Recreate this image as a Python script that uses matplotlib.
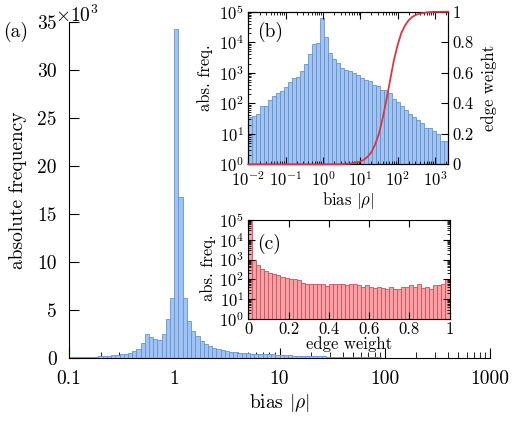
import numpy as np
import matplotlib
matplotlib.use("Agg")
import matplotlib.pyplot as plt
from matplotlib.ticker import LogLocator, NullFormatter

plt.rcParams['font.family'] = ['cmr10', 'DejaVu Serif']
plt.rcParams['mathtext.fontset'] = 'cm'
plt.rcParams['axes.formatter.use_mathtext'] = True
plt.rcParams['axes.unicode_minus'] = False

# (a) main histogram: 25 bins per decade from 0.1 to 1000, counts in thousands
main_log_edges = np.arange(-1, 3.0001, 0.04)
main_counts = [
    0.10, 0.10, 0.11, 0.12, 0.12, 0.13, 0.15, 0.17, 0.19, 0.22,
    0.27, 0.32, 0.40, 0.45, 0.55, 0.70, 0.95, 1.60,
    2.50, 2.15, 2.00, 1.85, 2.45, 4.10, 6.20,
    34.3, 16.8, 6.2, 3.9, 2.8, 2.3, 1.8, 1.45, 1.2, 1.05, 0.95,
    0.85, 0.75, 0.66, 0.60, 0.55, 0.50, 0.47, 0.45,
    0.43, 0.42, 0.42, 0.41, 0.38, 0.35, 0.31, 0.28, 0.27, 0.26,
    0.24, 0.22, 0.21, 0.20, 0.18, 0.17, 0.16, 0.15, 0.14, 0.13,
    0.12, 0.11, 0.10, 0.09, 0.085, 0.08, 0.07, 0.065, 0.06, 0.055,
    0.05, 0.045, 0.042, 0.04, 0.037, 0.035,
    0.032, 0.03, 0.027, 0.025, 0.022, 0.02, 0.017, 0.015, 0.012, 0.011,
    0.01, 0.009, 0.008, 0.008, 0.007, 0.006, 0.006, 0.005, 0.005, 0.004,
]
main_xticks = [0.1, 1, 10, 100, 1000]
main_xticklabels = ['0.1', '1', '10', '100', '1000']
main_yticks = [0, 5, 10, 15, 20, 25, 30, 35]

# (b) inset: 50 log bins from 1e-2 to ~2.3e3
b_log_edges = np.linspace(-2, 3.36, 51)
b_counts = [
    35, 38, 45, 81, 81, 126, 174, 209, 257, 347,
    513, 661, 741, 1148, 1905, 3981, 8511, 9120, 60000, 15136,
    4365, 2754, 2042, 1380, 1230, 1148, 955, 832, 661, 575,
    537, 398, 363, 269, 269, 209, 135, 112, 81, 60,
    45, 35, 28, 22, 15, 15, 12, 10, 6, 6,
]
# edge weight curve, x as log10 of bias
curve_logbias = [-2, 0, 0.5, 0.75, 1.0, 1.1, 1.2, 1.3, 1.4, 1.5, 1.6, 1.7,
                 1.8, 1.9, 2.0, 2.1, 2.2, 2.3, 2.4, 2.5, 2.6, 2.8, 3.0, 3.36]
curve_weight = [0, 0, 0.001, 0.005, 0.018, 0.03, 0.05, 0.08, 0.13, 0.20,
                0.30, 0.42, 0.55, 0.68, 0.78, 0.86, 0.91, 0.945, 0.967,
                0.98, 0.988, 0.996, 0.999, 1.0]

# (c) inset: 50 linear bins of edge weight
c_edges = np.linspace(0, 1, 51)
c_counts = [
    89000, 955, 525, 331, 269, 204, 182, 162, 138, 123,
    100, 100, 89, 68, 60, 60, 60, 56, 60, 46,
    60, 60, 60, 56, 54, 56, 60, 50, 43, 50,
    41, 36, 43, 36, 33, 43, 31, 33, 39, 43,
    50, 43, 56, 38, 43, 33, 50, 54, 58, 100,
]

blue_fill, blue_edge = '#a3c3ef', '#5e95de'
red_fill, red_edge = '#f2a3a6', '#dc4a55'
red_line = '#e03540'

W, H = 528, 421
fig = plt.figure(figsize=(W / 100, H / 100), dpi=100)


def rect(l, t, r, b):
    return [l / W, 1 - b / H, (r - l) / W, (b - t) / H]


FS_MAIN = 14
FS_IN = 12

# ---- main panel (a)
ax = fig.add_axes(rect(69, 22, 490, 358))
edges = 10 ** main_log_edges
ax.bar(edges[:-1], main_counts, width=np.diff(edges), align='edge',
       color=blue_fill, edgecolor=blue_edge, linewidth=0.6)
ax.set_axisbelow(True)
ax.set_xscale('log')
ax.set_xlim(0.1, 1000)
ax.set_ylim(0, 35)
ax.set_xticks(main_xticks)
ax.set_xticklabels(main_xticklabels)
ax.xaxis.set_minor_formatter(NullFormatter())
ax.set_yticks(main_yticks)
ax.set_yticklabels([str(v) for v in main_yticks])
ax.spines['top'].set_visible(False)
ax.spines['right'].set_visible(False)
ax.tick_params(which='both', direction='in', top=False, right=False,
               labelsize=FS_MAIN)
ax.tick_params(which='major', length=7, pad=9)
ax.tick_params(which='minor', length=4)
ax.set_xlabel(r'bias $|\rho|$', fontsize=FS_MAIN, va='center')
ax.xaxis.set_label_coords(0.5, -0.134)
ax.set_ylabel('absolute frequency', fontsize=FS_MAIN, va='center')
ax.yaxis.set_label_coords(-0.121, 0.5)
fig.text(55 / W, 1 - 15 / H, r'$\times10^3$', fontsize=FS_MAIN, ha='left', va='center')
fig.text(3 / W, 1 - 32 / H, '(a)', fontsize=FS_MAIN, ha='left', va='center')

# ---- inset (b)
axb = fig.add_axes(rect(248.3, 11.7, 448.3, 164.3))
bedges = 10 ** b_log_edges
axb.bar(bedges[:-1], b_counts, width=np.diff(bedges), align='edge',
        color=blue_fill, edgecolor=blue_edge, linewidth=0.6)
axb.set_xscale('log')
axb.set_yscale('log')
axb.set_xlim(bedges[0], bedges[-1])
axb.set_ylim(1, 1e5)
axb.set_xticks([1e-2, 1e-1, 1, 10, 100, 1000])
axb.set_xticklabels([r'$10^{-2}$', r'$10^{-1}$', r'$10^{0}$', r'$10^{1}$',
                     r'$10^{2}$', r'$10^{3}$'])
axb.set_yticks([1, 10, 100, 1e3, 1e4, 1e5])
axb.set_yticklabels([r'$10^{%d}$' % i for i in range(6)])
axb.xaxis.set_minor_locator(LogLocator(base=10, subs=np.arange(2, 10), numticks=20))
axb.yaxis.set_minor_locator(LogLocator(base=10, subs=np.arange(2, 10), numticks=20))
axb.xaxis.set_minor_formatter(NullFormatter())
axb.yaxis.set_minor_formatter(NullFormatter())
axb.tick_params(which='both', direction='in', top=True, right=False, labelsize=FS_IN)
axb.tick_params(which='major', length=5, pad=3)
axb.tick_params(which='minor', length=2.5)
axb.tick_params(axis='x', which='major', pad=4)
axb.set_xlabel(r'bias $|\rho|$', fontsize=FS_IN, va='center')
axb.xaxis.set_label_coords(0.5, -0.237)
axb.set_ylabel('abs. freq.', fontsize=FS_IN, va='center')
axb.yaxis.set_label_coords(-0.215, 0.57)
axb.text(0.045, 0.87, '(b)', transform=axb.transAxes, fontsize=FS_MAIN,
         ha='left', va='center')

axb2 = axb.twinx()
axb2.plot(10 ** np.array(curve_logbias), curve_weight, color=red_line, lw=1.3,
          clip_on=False, zorder=5)
axb2.set_ylim(0, 1)
axb2.set_yticks([0, 0.2, 0.4, 0.6, 0.8, 1])
axb2.set_yticklabels(['0', '0.2', '0.4', '0.6', '0.8', '1'])
axb2.tick_params(which='both', direction='in', labelsize=FS_IN, length=5, pad=3)
axb2.set_ylabel('edge weight', fontsize=FS_IN, va='center', rotation=90)
axb2.yaxis.set_label_coords(1.205, 0.5)

# ---- inset (c)
axc = fig.add_axes(rect(248.3, 220, 449.5, 319))
axc.bar(c_edges[:-1], c_counts, width=np.diff(c_edges), align='edge',
        color=red_fill, edgecolor=red_edge, linewidth=0.6)
axc.set_yscale('log')
axc.set_xlim(0, 1)
axc.set_ylim(1, 1e5)
axc.set_xticks([0, 0.2, 0.4, 0.6, 0.8, 1])
axc.set_xticklabels(['0', '0.2', '0.4', '0.6', '0.8', '1'])
axc.set_yticks([1, 10, 100, 1e3, 1e4, 1e5])
axc.set_yticklabels([r'$10^{%d}$' % i for i in range(6)])
axc.yaxis.set_minor_locator(LogLocator(base=10, subs=np.arange(2, 10), numticks=20))
axc.yaxis.set_minor_formatter(NullFormatter())
axc.tick_params(which='both', direction='in', top=True, right=True, labelsize=FS_IN)
axc.tick_params(which='major', length=5, pad=3)
axc.tick_params(which='minor', length=2.5)
axc.tick_params(axis='x', which='major', pad=2)
axc.set_xlabel('edge weight', fontsize=FS_IN, va='center')
axc.xaxis.set_label_coords(0.5, -0.255)
axc.set_ylabel('abs. freq.', fontsize=FS_IN, va='center')
axc.yaxis.set_label_coords(-0.2, 0.52)
axc.text(0.045, 0.76, '(c)', transform=axc.transAxes, fontsize=FS_MAIN,
         ha='left', va='center')

fig.savefig('out.png', dpi=100)
plt.close(fig)
